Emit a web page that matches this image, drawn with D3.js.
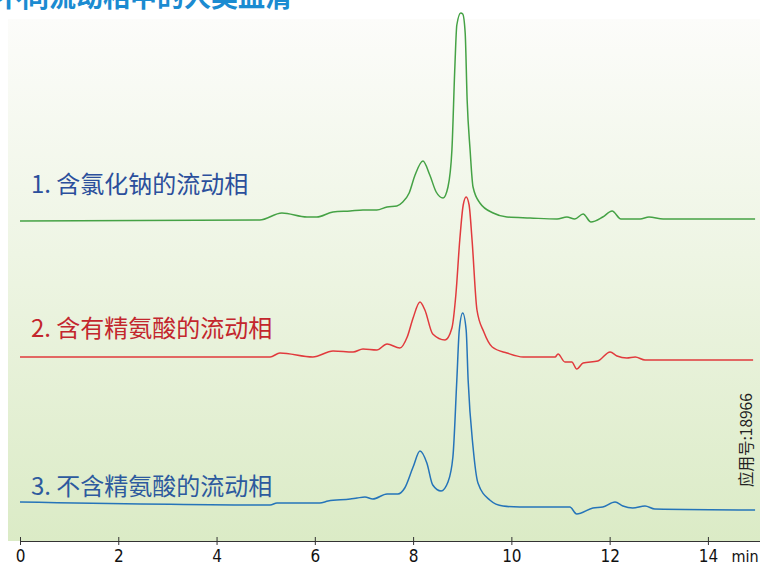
<!DOCTYPE html>
<html>
<head>
<meta charset="utf-8">
<script src="https://cdn.jsdelivr.net/npm/d3@7/dist/d3.min.js"></script>
<style>
  html, body { margin: 0; padding: 0; background: #ffffff; }
  svg { display: block; }
</style>
</head>
<body>
<svg id="chart" width="760" height="565"></svg>
<script>
// Retention times (min) and detector response (mAU above each trace's own baseline)
const saltTimes  = [0, 4.88, 5.33, 5.84, 6.04, 6.37, 6.72, 6.98, 7.26, 7.47, 7.67, 7.79, 7.92, 8.04, 8.20, 8.34, 8.47, 8.61, 8.71, 8.79, 8.85, 8.89, 8.97, 9.01, 9.06, 9.10, 9.16, 9.22, 9.36, 9.63, 9.91, 10.38, 10.93, 11.13, 11.29, 11.46, 11.62, 11.86, 12.05, 12.23, 12.62, 12.80, 13.09, 14.96];
const saltSignal = [0, 0.5, 4, 2, 2, 4.5, 5, 5.5, 5.5, 7, 7.5, 9.5, 14, 23, 30, 23, 14.5, 11.5, 17, 35.5, 77, 98, 104, 103.5, 94, 60.5, 35.5, 17, 9, 4, 2, 1.5, 1, 2, 1, 3.5, -0.5, 2, 5, 1, 1, 2, 1, 1];

const argTimes  = [0, 5.09, 5.29, 5.96, 6.37, 6.78, 6.98, 7.26, 7.47, 7.73, 7.88, 8.0, 8.14, 8.24, 8.40, 8.65, 8.79, 8.87, 8.95, 9.02, 9.08, 9.14, 9.20, 9.30, 9.44, 9.61, 9.91, 10.24, 10.89, 10.95, 11.09, 11.23, 11.33, 11.46, 11.76, 12.01, 12.15, 12.35, 12.52, 12.72, 14.92];
const argSignal = [0, 0, 2, 0, 3, 2.5, 4, 3.5, 6.5, 4.5, 10, 19.5, 27.5, 23.5, 11.5, 8.5, 14.5, 31, 58.5, 76, 80, 76, 58.5, 23.5, 12.5, 5, 2, 0, 0, 1.5, -2.5, -2.5, -6, -3, -2, 2.5, 0.5, -0.5, 0, -1.5, -1.5];

const plainTimes  = [0, 5.09, 5.23, 6.10, 6.27, 6.72, 6.86, 7.02, 7.18, 7.47, 7.69, 7.83, 8.0, 8.14, 8.28, 8.40, 8.57, 8.71, 8.81, 8.89, 8.94, 9.01, 9.08, 9.12, 9.22, 9.32, 9.56, 9.83, 10.17, 11.19, 11.33, 11.66, 11.86, 12.11, 12.27, 12.47, 12.72, 12.92, 14.96];
const plainSignal = [0, -1.5, -0.5, -0.5, 0.5, 1.5, 2, 2.5, 1.5, 4, 4, 7, 17.5, 25.5, 19.5, 8.5, 5.5, 10, 22.5, 61, 86, 94.5, 86, 61, 27.5, 9.5, 1, -2, -2.5, -2.5, -6, -3, -2.5, 0, -2, -3, -2, -3.5, -4];

// Vertical offset of each trace in the stacked display (mAU)
const traceOffsets = [160, 92, 19.5];
const traceNames   = ["1. 含氯化钠的流动相", "2. 含有精氨酸的流动相", "3. 不含精氨酸的流动相"];
const traceColors  = ["#45a245", "#e13a3d", "#2574b9"];
const labelColors  = ["#2b4f9c", "#c3262d", "#2d5a9e"];
const labelLevels  = [174, 102, 23];   // label baseline, mAU on the stacked scale

const xTicks = [0, 2, 4, 6, 8, 10, 12, 14];
const chartTitle = "不同流动相中的人类血清";
const noteText = "应用号:18966";

const svg = d3.select("#chart");
const W = 760, H = 565;

const x = d3.scaleLinear().domain([0, 15.06]).range([20, 760]);
const y = d3.scaleLinear().domain([0, 270]).range([541, 1]);

// Panel background: near white at the top fading to pale green
const defs = svg.append("defs");
const grad = defs.append("linearGradient")
  .attr("id", "bg").attr("x1", 0).attr("y1", 0).attr("x2", 0).attr("y2", 1);
grad.append("stop").attr("offset", "0%").attr("stop-color", "#fcfcfa");
grad.append("stop").attr("offset", "45%").attr("stop-color", "#eef5e4");
grad.append("stop").attr("offset", "100%").attr("stop-color", "#dbebc6");

svg.append("rect")
  .attr("x", 8).attr("y", 19)
  .attr("width", W - 8).attr("height", y(0) - 19)
  .attr("fill", "url(#bg)");

// Title (runs off the top edge of the page)
svg.append("text")
  .attr("x", 292).attr("y", 7)
  .attr("text-anchor", "end")
  .attr("font-family", "'Noto Sans CJK SC', sans-serif")
  .attr("font-weight", "bold")
  .attr("font-size", 27)
  .attr("fill", "#1b8bd1")
  .text(chartTitle);

// Chromatogram traces
const series = [
  { t: saltTimes,  v: saltSignal },
  { t: argTimes,   v: argSignal },
  { t: plainTimes, v: plainSignal }
];

const line = d3.line()
  .x(d => x(d[0]))
  .y(d => y(d[1]))
  .curve(d3.curveMonotoneX);

series.forEach((s, i) => {
  const pts = s.t.map((t, k) => [t, s.v[k] + traceOffsets[i]]);
  svg.append("path")
    .datum(pts)
    .attr("d", line)
    .attr("fill", "none")
    .attr("stroke", traceColors[i])
    .attr("stroke-width", 1.5)
    .attr("stroke-linejoin", "round");
});

// Trace labels
traceNames.forEach((name, i) => {
  svg.append("text")
    .attr("x", 31).attr("y", y(labelLevels[i]))
    .attr("font-family", "'Noto Sans CJK SC', sans-serif")
    .attr("font-size", 24)
    .attr("fill", labelColors[i])
    .text(name);
});

// Time axis
const axis = d3.axisBottom(x)
  .tickValues(xTicks)
  .tickFormat(d3.format("d"))
  .tickSizeInner(4)
  .tickSizeOuter(0);

const axisFont = "'Liberation Sans Narrow', 'DejaVu Sans Condensed', sans-serif";

const gx = svg.append("g")
  .attr("transform", `translate(0,${y(0)})`)
  .call(axis);
gx.select(".domain").attr("stroke", "#333").attr("stroke-width", 1);
gx.selectAll(".tick line").attr("stroke", "#333").attr("y1", -4).attr("y2", 4);
gx.selectAll(".tick text")
  .attr("y", 21).attr("dy", null)
  .attr("font-family", axisFont)
  .attr("font-size", 17)
  .attr("fill", "#111");

svg.append("text")
  .attr("x", 745).attr("y", y(0) + 21)
  .attr("text-anchor", "middle")
  .attr("font-family", axisFont)
  .attr("font-size", 16)
  .attr("fill", "#111")
  .text("min");

// Application number, running up the right edge
svg.append("text")
  .attr("transform", "translate(752,487) rotate(-90)")
  .attr("font-family", "'Noto Sans CJK SC', sans-serif")
  .attr("font-size", 15.5)
  .attr("fill", "#222")
  .text(noteText);
</script>
</body>
</html>
